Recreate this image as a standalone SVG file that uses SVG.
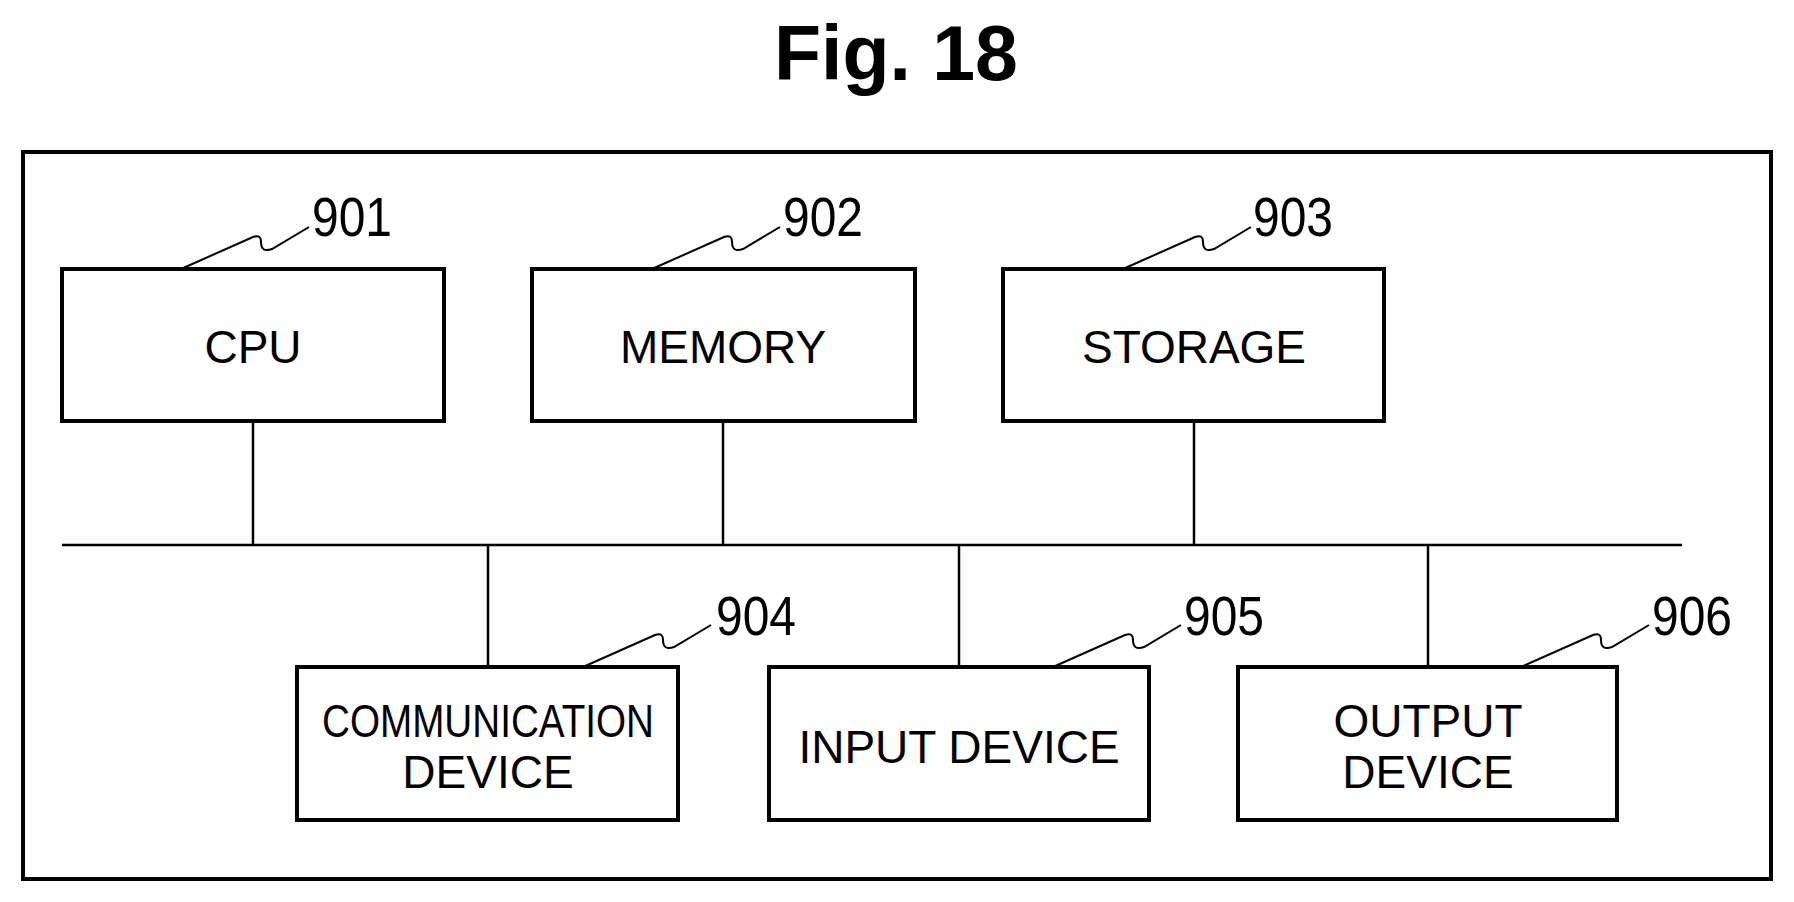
<svg xmlns="http://www.w3.org/2000/svg" width="1794" height="902" viewBox="0 0 1794 902">
<style>
.box{fill:#fff;stroke:#000;stroke-width:4}
.ln{fill:none;stroke:#000;stroke-width:2.5}
.sq{fill:none;stroke:#000;stroke-width:2}
.t{font-family:"Liberation Sans",Arial,sans-serif;font-size:46px;text-anchor:middle;fill:#000}
.n{font-family:"Liberation Sans",Arial,sans-serif;font-size:56px;fill:#000}
</style>
<defs>
<path id="sq" class="sq" d="M0,0 l72,-32 q8,-3 8,5 q0,11 11,7 l37,-22"/>
</defs>
<rect width="1794" height="902" fill="#fff"/>
<text x="896" y="80" font-family="Liberation Sans,Arial,sans-serif" font-size="77" font-weight="bold" text-anchor="middle">Fig. 18</text>
<rect x="23" y="152" width="1748" height="727" fill="none" stroke="#000" stroke-width="4"/>
<g id="connectors">
<line class="ln" x1="62" y1="545" x2="1682" y2="545"/>
<line class="ln" x1="253" y1="421" x2="253" y2="545"/>
<line class="ln" x1="723" y1="421" x2="723" y2="545"/>
<line class="ln" x1="1194" y1="421" x2="1194" y2="545"/>
<line class="ln" x1="488" y1="545" x2="488" y2="667"/>
<line class="ln" x1="959" y1="545" x2="959" y2="667"/>
<line class="ln" x1="1428" y1="545" x2="1428" y2="667"/>
</g>
<g id="cpu"><rect class="box" x="62" y="269" width="382" height="152"/><text class="t" x="253" y="363">CPU</text>
<use href="#sq" x="181" y="269"/><text class="n" x="312" y="236" textLength="80" lengthAdjust="spacingAndGlyphs">901</text></g>
<g id="memory"><rect class="box" x="532" y="269" width="383" height="152"/><text class="t" x="723" y="363">MEMORY</text>
<use href="#sq" x="652" y="269"/><text class="n" x="783" y="236" textLength="80" lengthAdjust="spacingAndGlyphs">902</text></g>
<g id="storage"><rect class="box" x="1003" y="269" width="381" height="152"/><text class="t" x="1194" y="363">STORAGE</text>
<use href="#sq" x="1123" y="269"/><text class="n" x="1253" y="236" textLength="80" lengthAdjust="spacingAndGlyphs">903</text></g>
<g id="comm"><rect class="box" x="297" y="667" width="381" height="153"/><text class="t" x="488" y="737" font-size="40" textLength="332" lengthAdjust="spacingAndGlyphs">COMMUNICATION</text><text class="t" x="488" y="788" font-size="40">DEVICE</text>
<use href="#sq" x="583" y="667"/><text class="n" x="716" y="635" textLength="80" lengthAdjust="spacingAndGlyphs">904</text></g>
<g id="input"><rect class="box" x="769" y="667" width="380" height="153"/><text class="t" x="959" y="763">INPUT DEVICE</text>
<use href="#sq" x="1053" y="667"/><text class="n" x="1184" y="635" textLength="80" lengthAdjust="spacingAndGlyphs">905</text></g>
<g id="output"><rect class="box" x="1238" y="667" width="379" height="153"/><text class="t" x="1428" y="737">OUTPUT</text><text class="t" x="1428" y="788">DEVICE</text>
<use href="#sq" x="1521" y="667"/><text class="n" x="1652" y="635" textLength="80" lengthAdjust="spacingAndGlyphs">906</text></g>
</svg>
